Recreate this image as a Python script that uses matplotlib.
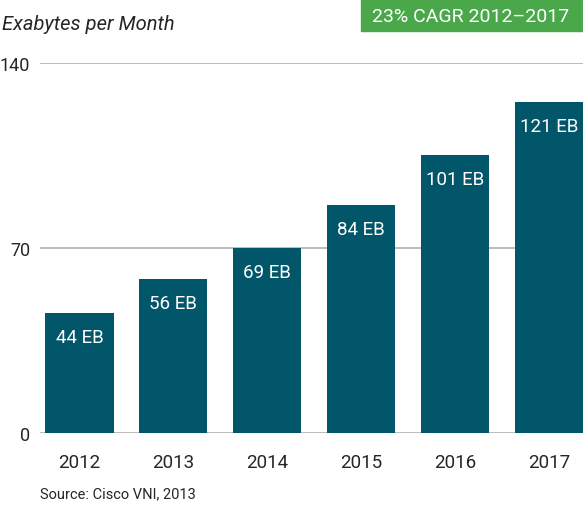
import matplotlib
matplotlib.use("Agg")
import matplotlib.pyplot as plt

plt.rcParams['font.family'] = ['Roboto', 'DejaVu Sans']

anios = ["2012", "2013", "2014", "2015", "2016", "2017"]
# alturas de las barras (algo mayores que las etiquetas)
alturas = [45.6, 58.4, 70.0, 86.4, 105.3, 125.5]
etiquetas = ["44 EB", "56 EB", "69 EB", "84 EB", "101 EB", "121 EB"]
marcas_y = [0, 70, 140]

color_barra = '#02566a'
color_verde = '#4aa84a'
color_texto = '#262626'

fig = plt.figure(figsize=(5.83, 5.06), dpi=100)
ax = fig.add_axes([0.0686, 0.1417, 0.9314, 0.7312])

x = list(range(len(anios)))
barras = ax.bar(x, alturas, width=0.725, color=color_barra, zorder=2)

for b, et in zip(barras, etiquetas):
    ax.annotate(et, (b.get_x() + b.get_width()/2, b.get_height()),
                xytext=(0, -24), textcoords='offset pixels',
                ha='center', va='center', color='white', fontsize=13.5)

for v in marcas_y:
    ax.axhline(v, color='#b0b0b0', linewidth=1.2, zorder=1)

ax.set_xlim(-0.421, 5.364)
ax.set_ylim(0, 140)
ax.set_yticks(marcas_y)
ax.set_yticklabels([str(v) for v in marcas_y], fontsize=13, color=color_texto)
ax.set_xticks(x)
ax.set_xticklabels(anios, fontsize=13.5, color=color_texto)
ax.tick_params(axis='y', length=0, pad=7)
ax.tick_params(axis='x', length=0, pad=14)
for s in ax.spines.values():
    s.set_visible(False)

fig.text(0.003, 0.951, "Exabytes per Month", style='italic', fontsize=14.5,
         color=color_texto, ha='left', va='center')

# recuadro verde de la tasa de crecimiento
fig.patches.append(plt.Rectangle((361/583, 1 - 32/506), 222/583, 32/506,
                                 transform=fig.transFigure, color=color_verde))
fig.text(471/583, 1 - 17.5/506, "23% CAGR 2012\u20132017", fontsize=14,
         color='white', ha='center', va='center')

fig.text(40/583, 1 - 494/506, "Source: Cisco VNI, 2013", fontsize=10.5,
         color=color_texto, ha='left', va='center')

fig.savefig("out.png", dpi=100)
